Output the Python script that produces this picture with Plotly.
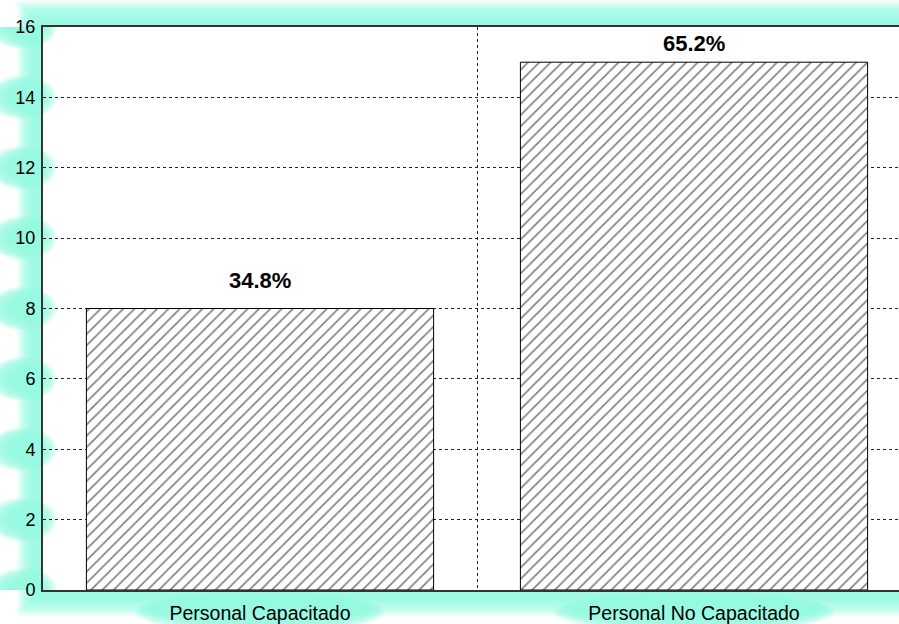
import plotly.graph_objects as go

categories = ["Personal Capacitado", "Personal No Capacitado"]
counts = [8, 15]
percent_labels = ["34.8%", "65.2%"]
y_ticks = [0, 2, 4, 6, 8, 10, 12, 14, 16]

# layout / style settings
W, H = 899, 624
ML, MT, MB, MR = 43, 27, 28, 0
label_yshift = [28, 19]
GLOW = (150, 250, 226)
FONT = "Liberation Sans, Arial, sans-serif"

xs = list(range(len(categories)))
plot_w = W - ML - MR
plot_h = H - MT - MB
cat_px = 434.0


def glow(a):
    return f"rgba({GLOW[0]},{GLOW[1]},{GLOW[2]},{a:.3f})"


fig = go.Figure()
fig.add_trace(go.Bar(
    x=xs, y=counts, width=0.8,
    marker=dict(color="white", line=dict(color="black", width=1),
                pattern=dict(shape="/", size=8, solidity=0.2, fgcolor="black")),
    hoverinfo="skip", showlegend=False,
))

for xi, v, t, ys in zip(xs, counts, percent_labels, label_yshift):
    fig.add_annotation(x=xi, y=v, text=f"<b>{t}</b>", showarrow=False, yshift=ys,
                       font=dict(family=FONT, size=22, color="black"))

shapes = []
# glow around plot frame
for d in range(1, 30):
    a = 1.0 if d <= 11 else max(0.0, 1 - (d - 11) / 16)
    if a <= 0:
        continue
    shapes.append(dict(type="rect", xref="paper", yref="paper",
                       x0=-d / plot_w, x1=1 + d / plot_w,
                       y0=-d / plot_h, y1=1 + d / plot_h,
                       line=dict(color=glow(a), width=1.4),
                       fillcolor="rgba(0,0,0,0)", layer="below"))

# soft glow blobs behind y tick labels
steps = 14
for tv in y_ticks:
    for k in range(steps):
        f = 1 - k / steps
        rx = 10 + 24 * f
        ry = 7 + 15 * f
        cx, cy = -20, 0
        shapes.append(dict(type="circle", xref="paper", yref="y",
                           xsizemode="pixel", ysizemode="pixel", xanchor=0, yanchor=tv,
                           x0=cx - rx, x1=cx + rx, y0=cy - ry, y1=cy + ry,
                           fillcolor=glow(0.2), line=dict(width=0), layer="below"))

# soft glow behind category labels
for xi, c in zip(xs, categories):
    half = len(c) * 5.0
    for k in range(steps):
        f = 1 - k / steps
        rx = half + 4 + 26 * f
        ry = 7 + 16 * f
        cx, cy = 0, -20
        shapes.append(dict(type="circle", xref="x", yref="paper",
                           xsizemode="pixel", ysizemode="pixel", xanchor=xi, yanchor=0,
                           x0=cx - rx, x1=cx + rx, y0=cy - ry, y1=min(cy + ry, -2),
                           fillcolor=glow(0.2), line=dict(width=0), layer="below"))

fig.update_layout(
    width=W, height=H,
    margin=dict(l=ML, r=MR, t=MT, b=MB, pad=0),
    paper_bgcolor="white", plot_bgcolor="white",
    shapes=shapes,
    xaxis=dict(type="linear", range=[-0.5, -0.5 + plot_w / cat_px],
               tickvals=xs, ticktext=categories, showgrid=False, zeroline=False,
               showline=True, linecolor="#333333", linewidth=2, mirror=True,
               ticks="", ticklabelstandoff=5,
               tickfont=dict(family=FONT, size=19.5, color="black"),
               minor=dict(tickvals=[0.5], showgrid=True, gridcolor="#222222",
                          griddash="dot", gridwidth=1, ticks="")),
    yaxis=dict(range=[0, 16], tickvals=y_ticks, showgrid=True, gridcolor="#222222",
               griddash="dot", gridwidth=1, zeroline=False,
               showline=True, linecolor="#333333", linewidth=2, mirror=False,
               ticks="", ticklabelstandoff=2,
               tickfont=dict(family=FONT, size=18, color="black")),
)

fig.write_html("out.html")
